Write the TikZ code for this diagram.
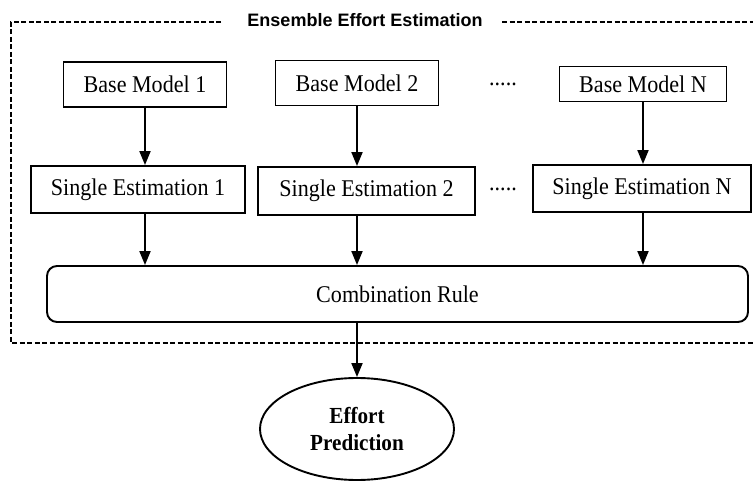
\documentclass[tikz,border=0pt]{standalone}
\usepackage{fontspec}
\setmainfont{Liberation Serif}[FakeStretch=0.92]
\setsansfont{Liberation Sans}
\usetikzlibrary{arrows.meta,shapes.geometric}

\tikzset{
  box/.style={draw, line width=1.9pt, minimum height=45pt, inner sep=0pt,
    font=\fontsize{24}{28}\selectfont},
  combo/.style={box, rounded corners=10pt, minimum height=56pt, minimum width=701pt},
  result/.style={draw, ellipse, line width=1.9pt, minimum width=194pt,
    minimum height=102pt, inner sep=0pt, align=center,
    font=\fontsize{23}{27}\selectfont\bfseries},
  arr/.style={line width=1.9pt, -{Triangle[width=11pt,length=14pt]}},
  frame/.style={line width=1.4pt, dash pattern=on 5pt off 2.5pt},
  dots/.style={anchor=base, inner sep=0pt, font=\fontsize{24}{28}\selectfont},
  heading/.style={inner sep=0pt, font=\sffamily\bfseries\fontsize{18}{22}\selectfont}
}

\begin{document}
\begin{tikzpicture}[x=1pt, y=-1pt]
  \useasboundingbox (0,0) rectangle (753,481);

  % outer dashed frame with its heading
  \node[heading] (title) at (365,20) {Ensemble Effort Estimation};
  \coordinate (fl) at (221,22);
  \coordinate (fr) at (502,22);
  \draw[frame] (fl) -- (11,22) -- (11,343) -- (760,343);
  \draw[frame] (fr) -- (760,22);

  % base models
  \node[box, minimum width=163pt] (bm1) at (145,84.5) {Base Model 1};
  \node[box, minimum width=163pt] (bm2) at (357,83) {Base Model 2};
  \node[box, minimum width=167pt, minimum height=35pt] (bmN) at (643,84) {Base Model N};
  \node[dots] (d1) at (503,85.5) {.....};

  % single estimations
  \node[box, minimum width=214pt, minimum height=47pt] (se1) at (138,189.5) {Single Estimation 1};
  \node[box, minimum width=217pt, minimum height=48pt] (se2) at (366.5,191) {Single Estimation 2};
  \node[box, minimum width=218pt, minimum height=47pt] (seN) at (642,188.5) {Single Estimation N};
  \node[dots] (d2) at (503,191) {.....};

  % combination rule and final prediction
  \node[combo] (comb) at (397.5,294) {Combination Rule};
  \node[result] (ep) at (357,429) {Effort\\Prediction};

  % connectors
  \draw[arr] (bm1.south) -- (bm1.south |- se1.north);
  \draw[arr] (bm2.south) -- (bm2.south |- se2.north);
  \draw[arr] (bmN.south) -- (bmN.south |- seN.north);
  \draw[arr] (bm1.south |- se1.south) -- (bm1.south |- comb.north);
  \draw[arr] (bm2.south |- se2.south) -- (bm2.south |- comb.north);
  \draw[arr] (bmN.south |- seN.south) -- (bmN.south |- comb.north);
  \draw[arr] (ep.north |- comb.south) -- (ep.north);
\end{tikzpicture}
\end{document}
